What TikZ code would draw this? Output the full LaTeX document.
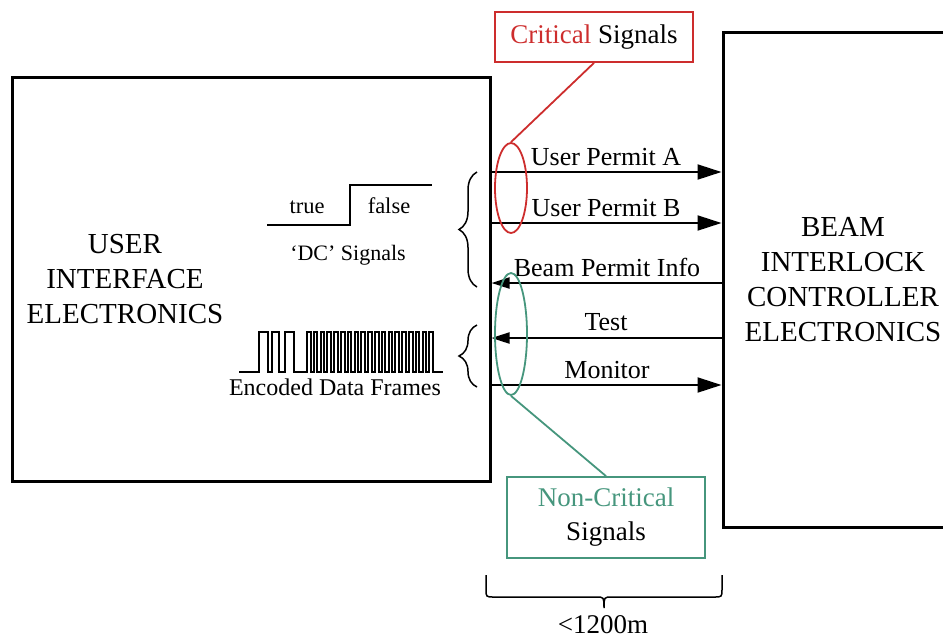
\documentclass[tikz,border=0pt]{standalone}
\usepackage{fontspec}
\setmainfont{Liberation Serif}
\usetikzlibrary{arrows.meta,shapes.geometric,decorations.pathreplacing}
\definecolor{critred}{RGB}{205,45,45}
\definecolor{ncgreen}{RGB}{70,150,125}
\begin{document}
\begin{tikzpicture}[x=1pt,y=-1pt,
  box/.style={draw, line width=3pt, rectangle, inner sep=0pt},
  big/.style={font=\fontsize{29}{35}\selectfont, align=center, inner sep=0pt},
  lab/.style={font=\fontsize{26}{30}\selectfont, inner sep=0pt, anchor=base},
  small/.style={font=\fontsize{22.5}{27}\selectfont, inner sep=0pt, anchor=base},
  sig/.style={line width=2pt},
  rarrow/.style={sig, -{Triangle[length=24pt,width=15pt]}},
  larrow/.style={sig, -{Triangle[length=18pt,width=11pt]}},
  wave/.style={line width=2pt, line join=miter},
  callred/.style={draw=critred, line width=1.8pt},
  callgreen/.style={draw=ncgreen, line width=1.8pt},
  bracestyle/.style={line width=1.5pt},
]
\useasboundingbox (0,0) rectangle (943,641);
\clip (0,0) rectangle (943,641);

% main boxes
\node[box, minimum width=478pt, minimum height=404pt] (ui) at (251,279) {};
\node[big] (uitext) at (125,279) {USER\\INTERFACE\\ELECTRONICS};
\node[box, big, minimum width=240pt, minimum height=495pt] (bic) at (843,279.5)
  {BEAM\\INTERLOCK\\CONTROLLER\\ELECTRONICS};

% signal rows
\coordinate (yA) at (0,172);
\coordinate (yB) at (0,223);
\coordinate (yC) at (0,283);
\coordinate (yD) at (0,338);
\coordinate (yE) at (0,385);

\draw[rarrow] (ui.east |- yA) -- (bic.west |- yA);
\draw[rarrow] (ui.east |- yB) -- (bic.west |- yB);
\draw[larrow] (bic.west |- yC) -- (ui.east |- yC);
\draw[larrow] (bic.west |- yD) -- (ui.east |- yD);
\draw[rarrow] (ui.east |- yE) -- (bic.west |- yE);

\node[lab] (lA) at (606,165) {User Permit A};
\node[lab] (lB) at (606,216) {User Permit B};
\node[lab] (lC) at (607,276) {Beam Permit Info};
\node[lab] (lD) at (606,330) {Test};
\node[lab] (lE) at (607,378) {Monitor};

% critical callout
\node[callred, rectangle, minimum width=198pt, minimum height=50pt, inner sep=0pt,
  font=\fontsize{27}{32}\selectfont] (crit) at (594,37) {\textcolor{critred}{Critical} Signals};
\node[callred, ellipse, minimum width=32pt, minimum height=90pt, inner sep=0pt] (critell) at (511,188) {};
\draw[callred] (crit.south) -- (critell.north);

% non-critical callout
\node[callgreen, rectangle, minimum width=198pt, minimum height=81pt, inner sep=0pt, align=center,
  font=\fontsize{27}{34}\selectfont] (nc) at (606,517.5) {\textcolor{ncgreen}{Non-Critical}\\Signals};
\node[callgreen, ellipse, minimum width=32pt, minimum height=122pt, inner sep=0pt] (ncell) at (511,334) {};
\draw[callgreen] (ncell.south) -- (nc.north);

% DC signal
\draw[wave] (267,225) -- (350,225) -- (350,185) -- (432,185);
\node[small] (ttrue) at (307,213) {true};
\node[small] (tfalse) at (389,213) {false};
\node[small, font=\fontsize{22}{26}\selectfont] (dclab) at (348,260) {‘DC’ Signals};

% encoded waveform
\draw[wave] (239,372) -- (259,372) -- (259,332) -- (268,332) -- (268,372)
  -- (272,372) -- (272,332) -- (279,332) -- (279,372)
  -- (285,372) -- (285,332) -- (294,332) -- (294,372) -- (307,372)
  \foreach \k in {0,...,18} {
    -- ({307+6.8*\k},332) -- ({310.6+6.8*\k},332) -- ({310.6+6.8*\k},372) -- ({313.8+6.8*\k},372)
  } -- (443,372);
\node[small, font=\fontsize{24}{28}\selectfont] (enclab) at (335,395) {Encoded Data Frames};

% braces
\draw[bracestyle, decorate, decoration={brace, amplitude=18pt}] (477,287) -- (477,172);
\draw[bracestyle, decorate, decoration={brace, amplitude=18pt}] (477,387) -- (477,325);

% distance brace
\draw[bracestyle] (486,575) -- (486,589) .. controls (486,597) .. (494,597) -- (596,597)
  .. controls (604,597) .. (604,608) .. controls (604,597) .. (612,597) -- (714,597)
  .. controls (722,597) .. (722,589) -- (722,575);
\node[lab, font=\fontsize{27}{32}\selectfont] (dist) at (603,633) {<1200m};
\end{tikzpicture}
\end{document}
